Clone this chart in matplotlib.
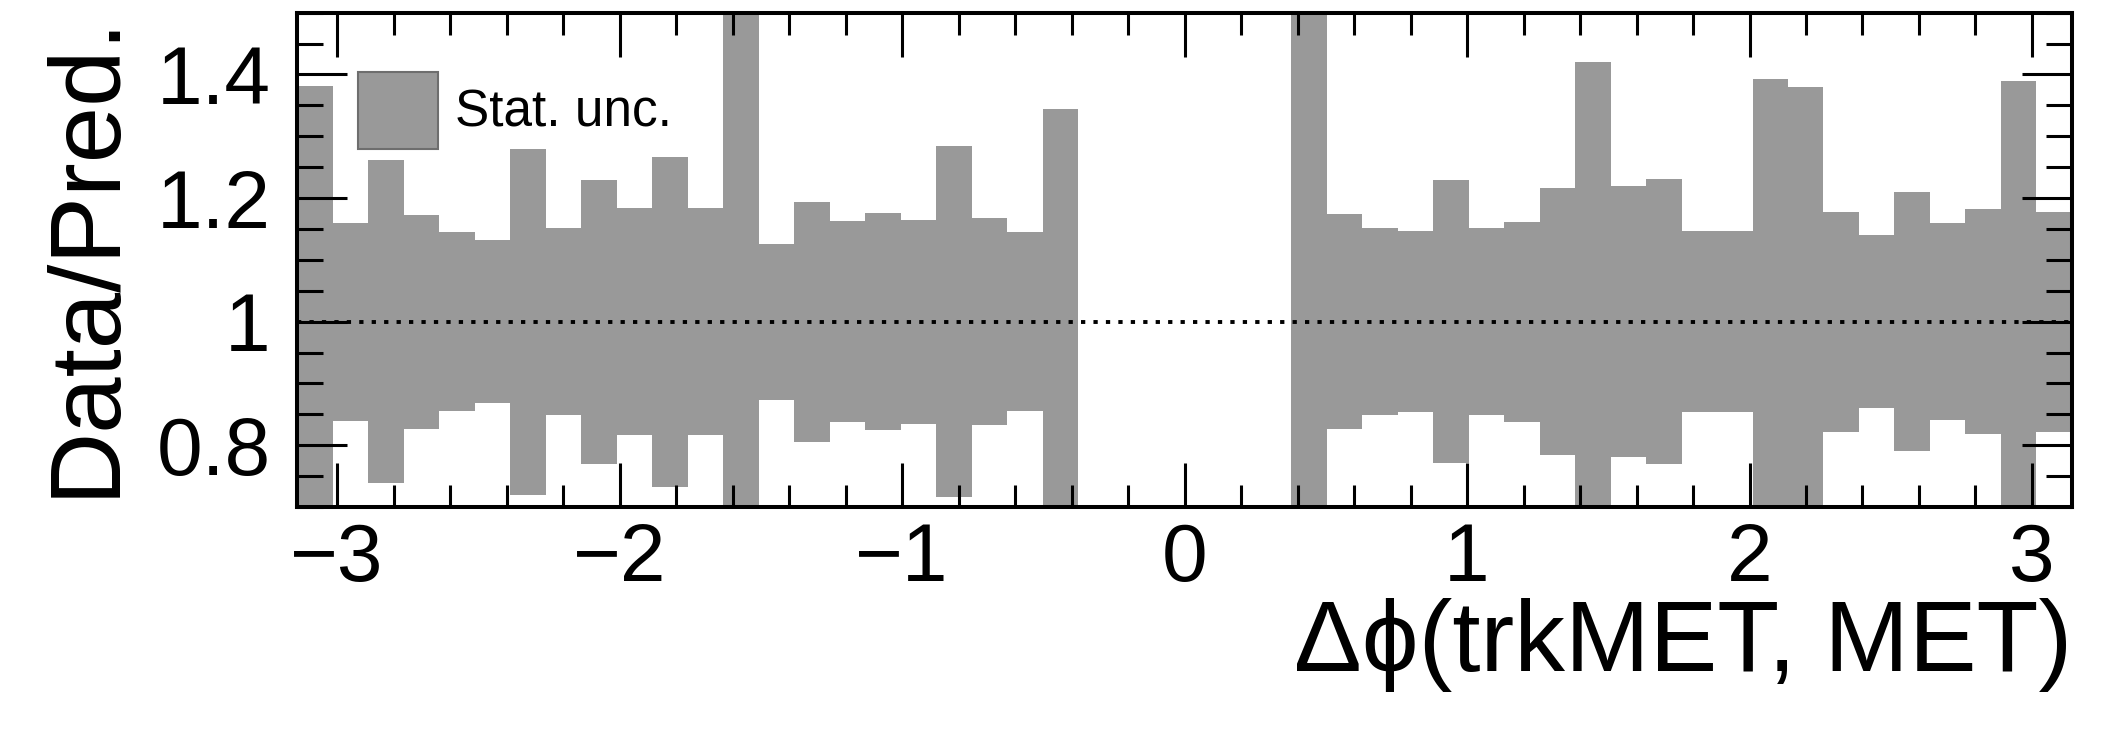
#!/usr/bin/env python
# coding: utf-8

import numpy as np
import matplotlib
matplotlib.use('Agg')
import matplotlib.pyplot as plt
from matplotlib.patches import Patch
from matplotlib.ticker import MultipleLocator, FormatStrFormatter


# Binning: 50 bins in delta phi, from -pi to pi
n_bins = 50
bin_edges = np.linspace(-np.pi, np.pi, n_bins + 1)

# Relative stat. uncertainty per bin (band is 1 +- unc)
# the 6 central bins are empty
unc_left = [0.382, 0.160, 0.261, 0.173, 0.145, 0.132, 0.280, 0.151, 0.230, 0.184, 0.267,
            0.184, 0.550, 0.126, 0.194, 0.163, 0.176, 0.165, 0.284, 0.167, 0.145, 0.344]
unc_center = [0.0, 0.0, 0.0, 0.0, 0.0, 0.0]
unc_right = [0.550, 0.174, 0.151, 0.146, 0.229, 0.151, 0.162, 0.216, 0.420, 0.219, 0.231,
             0.146, 0.147, 0.392, 0.380, 0.178, 0.140, 0.210, 0.159, 0.182, 0.390, 0.178]

x_ticks = [-3, -2, -1, 0, 1, 2, 3]
y_ticks = [0.8, 1.0, 1.2, 1.4]

x_label = 'Δϕ(trkMET, MET)'
y_label = 'Data/Pred.'
legend_label = 'Stat. unc.'

band_color = '#999999'

plt.rcParams['font.family'] = ['Liberation Sans', 'DejaVu Sans']


def plot_ratio():
	unc = np.array(unc_left + unc_center + unc_right)
	widths = np.diff(bin_edges)

	fig = plt.figure(figsize=(21.26, 7.29), dpi=100)
	ax = fig.add_axes([0.1397, 0.3045, 0.8349, 0.6781])

	# Stat. uncertainty band around 1
	ax.bar(bin_edges[:-1], 2 * unc, bottom=1 - unc, width=widths, align='edge',
	       color=band_color, edgecolor='none', linewidth=0)

	# Reference line at 1
	ax.axhline(1.0, color='black', lw=2.8, linestyle=(0, (1.1, 2.1)))

	ax.set_xlim(-np.pi, np.pi)
	ax.set_ylim(0.7, 1.5)

	ax.set_xticks(x_ticks)
	ax.set_yticks(y_ticks)
	ax.xaxis.set_minor_locator(MultipleLocator(0.2))
	ax.yaxis.set_minor_locator(MultipleLocator(0.05))
	ax.yaxis.set_major_formatter(FormatStrFormatter('%g'))

	ax.tick_params(which='both', direction='in', top=True, right=True, width=2.2,
	               labelsize=59)
	ax.tick_params(axis='x', which='major', length=31.7, pad=11)
	ax.tick_params(axis='x', which='minor', length=15.8)
	ax.tick_params(axis='y', which='major', length=36, pad=19)
	ax.tick_params(axis='y', which='minor', length=18.7)
	for sp in ax.spines.values():
		sp.set_linewidth(2.9)

	ax.set_xlabel(x_label, fontsize=73, loc='right')
	ax.xaxis.set_label_coords(1.0, -0.185)
	ax.set_ylabel(y_label, fontsize=73, loc='top')
	ax.yaxis.set_label_coords(-0.092, 1.0)

	handle = Patch(facecolor=band_color, edgecolor='#6e6e6e', linewidth=1.5)
	ax.legend([handle], [legend_label], loc='upper left', bbox_to_anchor=(0.0344, 0.881),
	          frameon=False, fontsize=37, borderpad=0, borderaxespad=0,
	          handlelength=1.56, handleheight=1.95, handletextpad=0.33)

	fig.savefig('out.png', dpi=100)
	plt.close()


plot_ratio()
